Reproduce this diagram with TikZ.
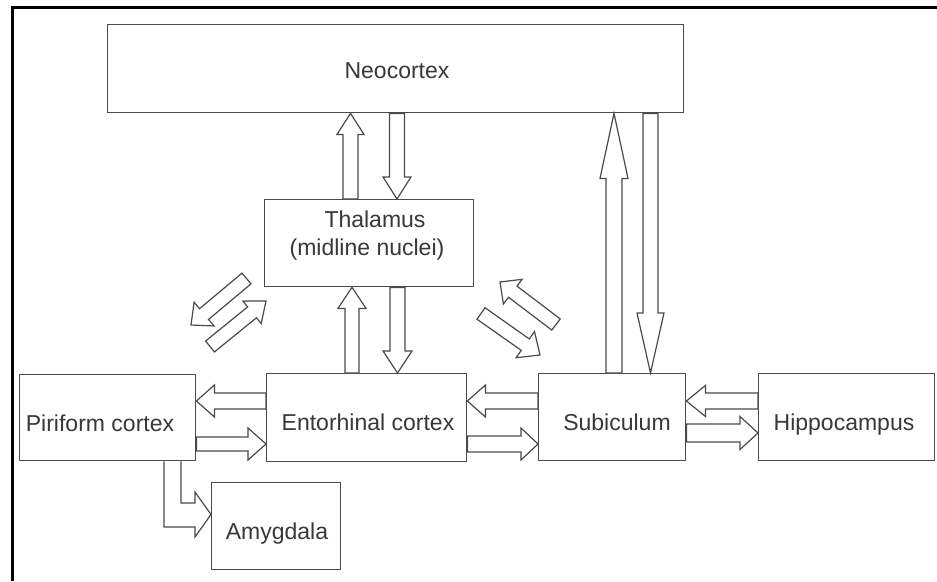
\documentclass[tikz,border=0pt]{standalone}
\usepackage{fontspec}
\setmainfont{Liberation Sans}
\usetikzlibrary{calc}
\definecolor{ln}{HTML}{4A4A4A}
\definecolor{tx}{HTML}{383838}
\tikzset{
  box/.style={draw=ln, line width=1.4pt, rectangle, inner sep=0pt, anchor=north west},
  lbl/.style={text=tx, font=\fontsize{23}{28}\selectfont, anchor=base, inner sep=0pt},
  barrow/.style={draw=ln, line width=1.2pt, fill=white, line join=miter},
}
\newcommand{\blockarr}[5]{%
  \coordinate (ba-a) at (#1);
  \coordinate (ba-b) at (#2);
  \coordinate (ba-h) at ($(ba-b)!#5!(ba-a)$);
  \draw[barrow] ($(ba-a)!#3!90:(ba-b)$) -- ($(ba-h)!#3!90:(ba-b)$) -- ($(ba-h)!#4!90:(ba-b)$) -- (ba-b) -- ($(ba-h)!#4!-90:(ba-b)$) -- ($(ba-h)!#3!-90:(ba-b)$) -- ($(ba-a)!#3!-90:(ba-b)$) -- cycle;
}
\begin{document}
\begin{tikzpicture}[x=1pt, y=-1pt]
\useasboundingbox (0,0) rectangle (937,581);
\fill[white] (0,0) rectangle (937,581);
% frame
\draw[line width=3pt, black] (12.5,581) -- (12.5,7.5) -- (937,7.5);

% boxes
\node[box, minimum width=576pt, minimum height=88pt] (neo) at (107,24) {};
\node[box, minimum width=209pt, minimum height=87pt] (thal) at (264,199) {};
\node[box, minimum width=176pt, minimum height=86pt] (pir) at (19,374) {};
\node[box, minimum width=200pt, minimum height=88pt] (ent) at (266,373) {};
\node[box, minimum width=147pt, minimum height=87pt] (sub) at (538,373) {};
\node[box, minimum width=176pt, minimum height=87pt] (hip) at (758,373) {};
\node[box, minimum width=129pt, minimum height=87pt] (amy) at (211,482) {};

% labels
\node[lbl] (neot) at (397,78) {Neocortex};
\node[lbl] (thalt1) at (375,227) {Thalamus};
\node[lbl] (thalt2) at (367,255) {(midline nuclei)};
\node[lbl] (pirt) at (100,431) {Piriform cortex};
\node[lbl] (entt) at (368,430) {Entorhinal cortex};
\node[lbl] (subt) at (617,430) {Subiculum};
\node[lbl] (hipt) at (844,430) {Hippocampus};
\node[lbl] (amyt) at (277,539) {Amygdala};

% thalamus <-> neocortex
\blockarr{350.5,0 |- thal.north}{350.5,0 |- neo.south}{7.5pt}{13.5pt}{21pt}
\blockarr{397,0 |- neo.south}{397,0 |- thal.north}{7.5pt}{14pt}{22pt}
% entorhinal <-> thalamus
\blockarr{352,0 |- ent.north}{352,0 |- thal.south}{7pt}{14pt}{21pt}
\blockarr{397.5,0 |- thal.south}{397.5,0 |- ent.north}{7.5pt}{14.5pt}{22pt}
% subiculum <-> neocortex
\blockarr{614,0 |- sub.north}{614,0 |- neo.south}{8pt}{14pt}{65pt}
\blockarr{650.5,0 |- neo.south}{650.5,0 |- sub.north}{7.5pt}{13.5pt}{60pt}
% entorhinal <-> piriform
\blockarr{ent.west |- 0,401}{pir.east |- 0,401}{8pt}{16pt}{18pt}
\blockarr{pir.east |- 0,444}{ent.west |- 0,444}{7pt}{16pt}{18pt}
% subiculum <-> entorhinal
\blockarr{sub.west |- 0,401}{ent.east |- 0,401}{8pt}{16pt}{18pt}
\blockarr{ent.east |- 0,444}{sub.west |- 0,444}{8pt}{16pt}{17pt}
% hippocampus <-> subiculum
\blockarr{hip.west |- 0,401}{sub.east |- 0,401}{8pt}{15.5pt}{19pt}
\blockarr{sub.east |- 0,433}{hip.west |- 0,433}{9pt}{16.5pt}{18pt}
% diagonal pairs
\blockarr{246.5,278.5}{191,325}{7pt}{15.5pt}{17pt}
\blockarr{210,346.5}{266,301}{7pt}{14.5pt}{18pt}
\blockarr{556,324.5}{500,282}{7pt}{15.5pt}{16pt}
\blockarr{481,313.5}{540,355}{7pt}{16pt}{18pt}
% piriform -> amygdala (elbow)
\draw[barrow] (164,0 |- pir.south) -- (164,527) -- (195,527) -- (195,537) -- (amy.west |- 0,514.5) -- (195,492) -- (195,503) -- (181,503) -- (181,0 |- pir.south);
\end{tikzpicture}
\end{document}
